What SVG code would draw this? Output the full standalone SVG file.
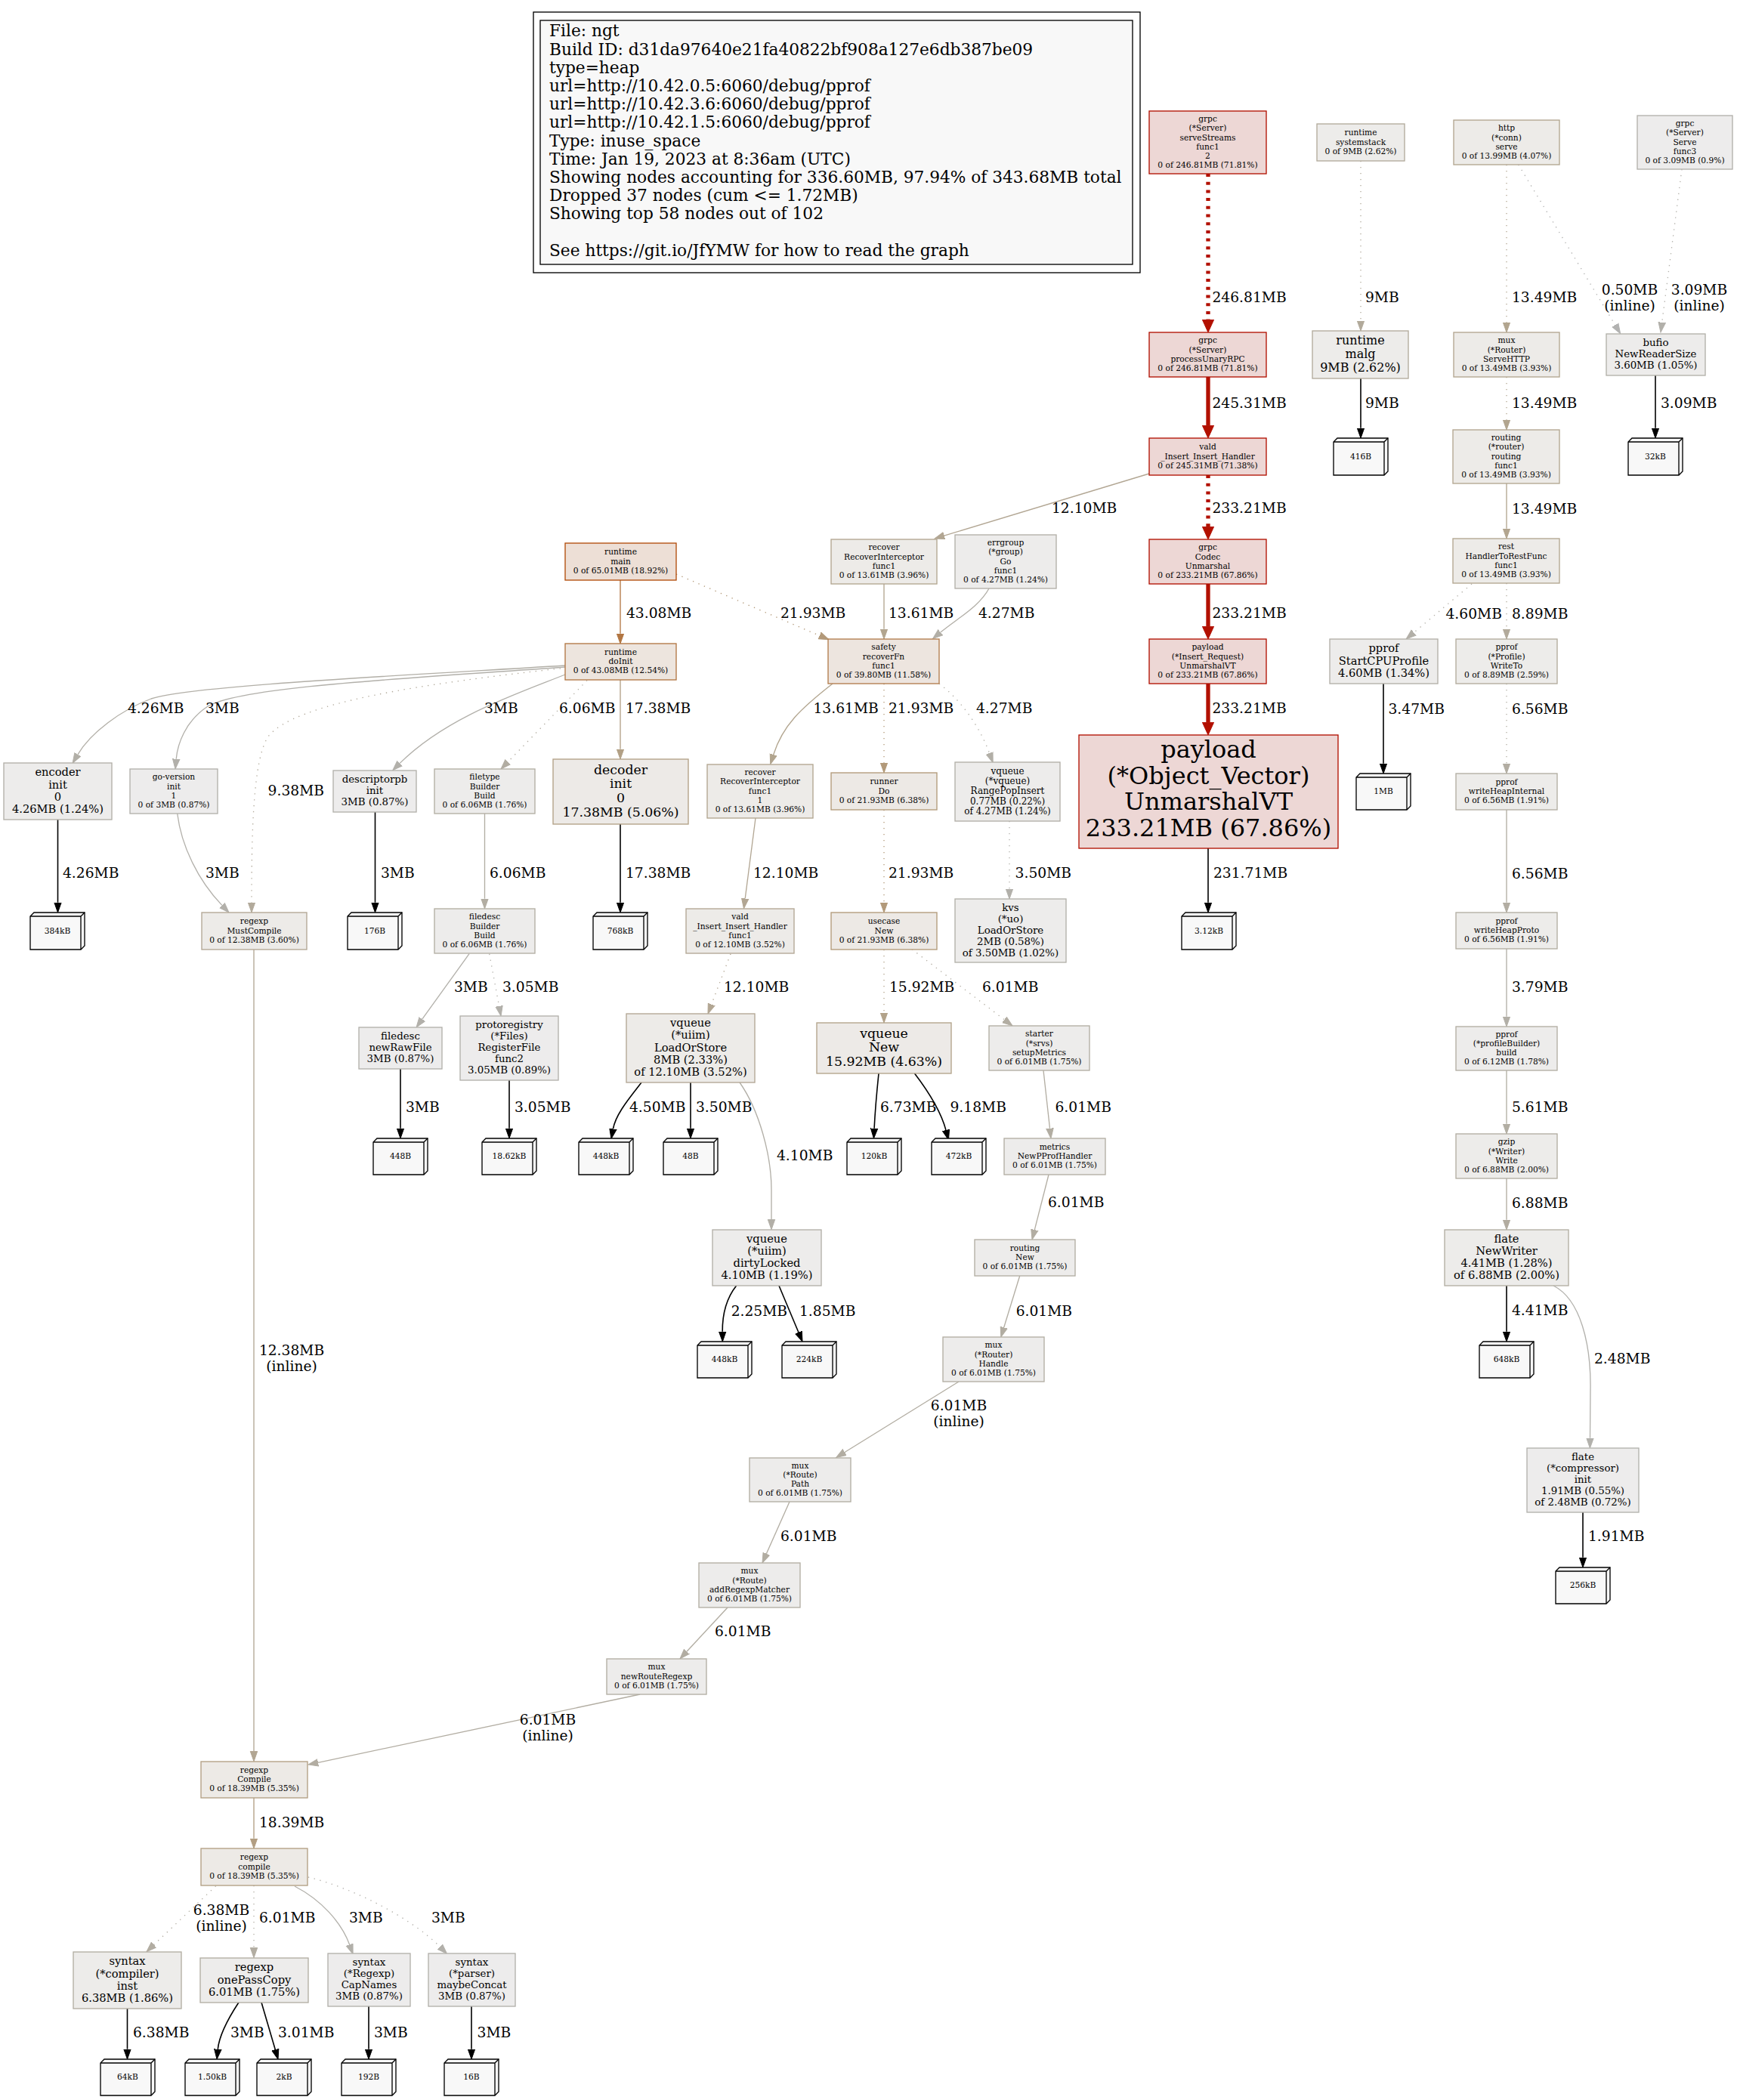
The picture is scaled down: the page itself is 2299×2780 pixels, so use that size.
<svg xmlns="http://www.w3.org/2000/svg" width="2299" height="2780" viewBox="0 0 2299 2780">
<style>
text{font-family:"DejaVu Serif",serif;fill:#000}
.t{text-anchor:middle}
.f8{font-size:10.67px}.f9{font-size:12px}.f10{font-size:13.33px}.f11{font-size:14.67px}.f12{font-size:16px}.f13{font-size:17.33px}.f24{font-size:32px}
.el{font-size:18.67px}.elc{font-size:18.67px;text-anchor:middle}
.lg{font-size:21.7px}
.nb{stroke-width:1.33}
.r{fill:#edd7d5;stroke:#b21000}.c1{fill:#eddfd6;stroke:#b24c09}.c2{fill:#ede5de;stroke:#b27642}.c3{fill:#ede5df;stroke:#b27c4b}
.c4{fill:#ede9e5;stroke:#b29979}.c5{fill:#edeae6;stroke:#b29e82}.c6{fill:#edeae7;stroke:#b2a085}.c6b{fill:#edeae7;stroke:#b2a289}
.c7{fill:#edebe8;stroke:#b2a58f}.c8{fill:#edebe8;stroke:#b2a693}.c9{fill:#edecea;stroke:#b2aa9b}.c10{fill:#edecea;stroke:#b2ada1}
.c11{fill:#edeceb;stroke:#b2ada2}.c12{fill:#edeceb;stroke:#b2afa7}.c13{fill:#edeceb;stroke:#b2b0a9}.c14{fill:#edecec;stroke:#b2b0aa}.c15{fill:#edecec;stroke:#b2b1ac}
.lf{fill:#f8f8f8;stroke:#000;stroke-width:1.33}.lfl{fill:none;stroke:#000;stroke-width:1.33}
.e{fill:none;stroke-width:1.33}.th{stroke-width:5.33}.dt{stroke-dasharray:1.33 6.67}.dtr{stroke-dasharray:4 6.7}
.sr{stroke:#b21000}.sk{stroke:#000;stroke-width:1.6}.s43{stroke:#b27642}.s21{stroke:#b29979}.s18{stroke:#b29e82}.s17{stroke:#b2a085}.s15{stroke:#b2a289}
.s13{stroke:#b2a58f}.s12{stroke:#b2a693}.s9{stroke:#b2aa9b}.s6{stroke:#b2ada2}.s688{stroke:#b2aca0}.s561{stroke:#b2aea3}.s4{stroke:#b2afa7}.s3{stroke:#b2b0aa}.s248{stroke:#b2b1ac}.s05{stroke:#b2b2b1}
</style>
<defs>
<marker id="ar" markerUnits="userSpaceOnUse" viewBox="0 -9 18 18" markerWidth="18" markerHeight="18" refX="0" refY="0" orient="auto"><path d="M0,-7.6L16.7,0L0,7.6z" fill="#b21000" stroke="#b21000"/></marker>
<marker id="ak" markerUnits="userSpaceOnUse" viewBox="0 -6 15 12" markerWidth="15" markerHeight="12" refX="0" refY="0" orient="auto"><path d="M0,-4.7L13.3,0L0,4.7z" fill="#000" stroke="#000"/></marker>
<marker id="a43" markerUnits="userSpaceOnUse" viewBox="0 -6 15 12" markerWidth="15" markerHeight="12" refX="0" refY="0" orient="auto"><path d="M0,-4.7L13.3,0L0,4.7z" fill="#b27642" stroke="#b27642"/></marker>
<marker id="a21" markerUnits="userSpaceOnUse" viewBox="0 -6 15 12" markerWidth="15" markerHeight="12" refX="0" refY="0" orient="auto"><path d="M0,-4.7L13.3,0L0,4.7z" fill="#b29979" stroke="#b29979"/></marker>
<marker id="a18" markerUnits="userSpaceOnUse" viewBox="0 -6 15 12" markerWidth="15" markerHeight="12" refX="0" refY="0" orient="auto"><path d="M0,-4.7L13.3,0L0,4.7z" fill="#b29e82" stroke="#b29e82"/></marker>
<marker id="a17" markerUnits="userSpaceOnUse" viewBox="0 -6 15 12" markerWidth="15" markerHeight="12" refX="0" refY="0" orient="auto"><path d="M0,-4.7L13.3,0L0,4.7z" fill="#b2a085" stroke="#b2a085"/></marker>
<marker id="a15" markerUnits="userSpaceOnUse" viewBox="0 -6 15 12" markerWidth="15" markerHeight="12" refX="0" refY="0" orient="auto"><path d="M0,-4.7L13.3,0L0,4.7z" fill="#b2a289" stroke="#b2a289"/></marker>
<marker id="a13" markerUnits="userSpaceOnUse" viewBox="0 -6 15 12" markerWidth="15" markerHeight="12" refX="0" refY="0" orient="auto"><path d="M0,-4.7L13.3,0L0,4.7z" fill="#b2a58f" stroke="#b2a58f"/></marker>
<marker id="a12" markerUnits="userSpaceOnUse" viewBox="0 -6 15 12" markerWidth="15" markerHeight="12" refX="0" refY="0" orient="auto"><path d="M0,-4.7L13.3,0L0,4.7z" fill="#b2a693" stroke="#b2a693"/></marker>
<marker id="a9" markerUnits="userSpaceOnUse" viewBox="0 -6 15 12" markerWidth="15" markerHeight="12" refX="0" refY="0" orient="auto"><path d="M0,-4.7L13.3,0L0,4.7z" fill="#b2aa9b" stroke="#b2aa9b"/></marker>
<marker id="a6" markerUnits="userSpaceOnUse" viewBox="0 -6 15 12" markerWidth="15" markerHeight="12" refX="0" refY="0" orient="auto"><path d="M0,-4.7L13.3,0L0,4.7z" fill="#b2ada2" stroke="#b2ada2"/></marker>
<marker id="a688" markerUnits="userSpaceOnUse" viewBox="0 -6 15 12" markerWidth="15" markerHeight="12" refX="0" refY="0" orient="auto"><path d="M0,-4.7L13.3,0L0,4.7z" fill="#b2aca0" stroke="#b2aca0"/></marker>
<marker id="a561" markerUnits="userSpaceOnUse" viewBox="0 -6 15 12" markerWidth="15" markerHeight="12" refX="0" refY="0" orient="auto"><path d="M0,-4.7L13.3,0L0,4.7z" fill="#b2aea3" stroke="#b2aea3"/></marker>
<marker id="a4" markerUnits="userSpaceOnUse" viewBox="0 -6 15 12" markerWidth="15" markerHeight="12" refX="0" refY="0" orient="auto"><path d="M0,-4.7L13.3,0L0,4.7z" fill="#b2afa7" stroke="#b2afa7"/></marker>
<marker id="a3" markerUnits="userSpaceOnUse" viewBox="0 -6 15 12" markerWidth="15" markerHeight="12" refX="0" refY="0" orient="auto"><path d="M0,-4.7L13.3,0L0,4.7z" fill="#b2b0aa" stroke="#b2b0aa"/></marker>
<marker id="a248" markerUnits="userSpaceOnUse" viewBox="0 -6 15 12" markerWidth="15" markerHeight="12" refX="0" refY="0" orient="auto"><path d="M0,-4.7L13.3,0L0,4.7z" fill="#b2b1ac" stroke="#b2b1ac"/></marker>
<marker id="a05" markerUnits="userSpaceOnUse" viewBox="0 -6 15 12" markerWidth="15" markerHeight="12" refX="0" refY="0" orient="auto"><path d="M0,-4.7L13.3,0L0,4.7z" fill="#b2b2b1" stroke="#b2b2b1"/></marker>
</defs>
<rect x="0" y="0" width="2299" height="2780" fill="#fff"/>

<g id="legend">
<rect x="706" y="16" width="803" height="345" fill="#fff" stroke="#000" stroke-width="1.33"/>
<rect x="715" y="27" width="784" height="323" fill="#f8f8f8" stroke="#000" stroke-width="1.33"/>
<text class="lg" x="727" y="48.3">File: ngt</text>
<text class="lg" x="727" y="72.5">Build ID: d31da97640e21fa40822bf908a127e6db387be09</text>
<text class="lg" x="727" y="96.7">type=heap</text>
<text class="lg" x="727" y="120.9">url=http://10.42.0.5:6060/debug/pprof</text>
<text class="lg" x="727" y="145.1">url=http://10.42.3.6:6060/debug/pprof</text>
<text class="lg" x="727" y="169.3">url=http://10.42.1.5:6060/debug/pprof</text>
<text class="lg" x="727" y="193.5">Type: inuse_space</text>
<text class="lg" x="727" y="217.7">Time: Jan 19, 2023 at 8:36am (UTC)</text>
<text class="lg" x="727" y="241.9">Showing nodes accounting for 336.60MB, 97.94% of 343.68MB total</text>
<text class="lg" x="727" y="266.1">Dropped 37 nodes (cum &lt;= 1.72MB)</text>
<text class="lg" x="727" y="290.3">Showing top 58 nodes out of 102</text>
<text class="lg" x="727" y="338.7">See https://git.io/JfYMW for how to read the graph</text>
</g>

<g id="edges">
<path class="e th dtr sr" d="M1599,230V423.3" marker-end="url(#ar)"/><text class="el" x="1604.5" y="400">246.81MB</text>
<path class="e th sr" d="M1599,499V563.3" marker-end="url(#ar)"/><text class="el" x="1604.5" y="540">245.31MB</text>
<path class="e th dtr sr" d="M1599,629V697.3" marker-end="url(#ar)"/><text class="el" x="1604.5" y="679">233.21MB</text>
<path class="e th sr" d="M1599,773V829.3" marker-end="url(#ar)"/><text class="el" x="1604.5" y="818">233.21MB</text>
<path class="e th sr" d="M1599,905V956.3" marker-end="url(#ar)"/><text class="el" x="1604.5" y="944">233.21MB</text>
<path class="e sk" d="M1599,1123V1194.7" marker-end="url(#ak)"/><text class="el" x="1606" y="1162">231.71MB</text>
<path class="e dt s9" d="M1801,213V424.7" marker-end="url(#a9)"/><text class="el" x="1807" y="400">9MB</text>
<path class="e sk" d="M1801,501V566.7" marker-end="url(#ak)"/><text class="el" x="1807" y="540">9MB</text>
<path class="e dt s13" d="M1994,218V426.7" marker-end="url(#a13)"/><text class="el" x="2001" y="400">13.49MB</text>
<path class="e dt s05" d="M2009.7,218L2137.8,430.3" marker-end="url(#a05)"/><text class="elc" x="2157" y="390">0.50MB</text><text class="elc" x="2157" y="411">(inline)</text>
<path class="e dt s3" d="M2226,224L2199.7,426.8" marker-end="url(#a3)"/><text class="elc" x="2249" y="390">3.09MB</text><text class="elc" x="2249" y="411">(inline)</text>
<path class="e dt s13" d="M1994,499V555.7" marker-end="url(#a13)"/><text class="el" x="2001" y="540">13.49MB</text>
<path class="e sk" d="M2191,497V566.7" marker-end="url(#ak)"/><text class="el" x="2198" y="540">3.09MB</text>
<path class="e s13" d="M1994,640V699.7" marker-end="url(#a13)"/><text class="el" x="2001" y="680">13.49MB</text>
<path class="e dt s4" d="M1948,773L1871.2,837.5" marker-end="url(#a4)"/><text class="el" x="1913.5" y="819">4.60MB</text>
<path class="e dt s9" d="M1994,772V832.7" marker-end="url(#a9)"/><text class="el" x="2001" y="819">8.89MB</text>
<path class="e sk" d="M1831,905V1010.7" marker-end="url(#ak)"/><text class="el" x="1837.5" y="945">3.47MB</text>
<path class="e dt s6" d="M1994,905V1010.7" marker-end="url(#a6)"/><text class="el" x="2001" y="945">6.56MB</text>
<path class="e s6" d="M1994,1072V1194.7" marker-end="url(#a6)"/><text class="el" x="2001" y="1163">6.56MB</text>
<path class="e s4" d="M1994,1256V1345.7" marker-end="url(#a4)"/><text class="el" x="2001" y="1313">3.79MB</text>
<path class="e s561" d="M1994,1417V1487.7" marker-end="url(#a561)"/><text class="el" x="2001" y="1472">5.61MB</text>
<path class="e s688" d="M1994,1560V1614.7" marker-end="url(#a688)"/><text class="el" x="2001" y="1599">6.88MB</text>
<path class="e sk" d="M1994,1702V1762.7" marker-end="url(#ak)"/><text class="el" x="2001" y="1741">4.41MB</text>
<path class="e s248" d="M2056,1702C2092,1720 2106,1780 2105,1840L2104.5,1903.7" marker-end="url(#a248)"/><text class="el" x="2110" y="1805">2.48MB</text>
<path class="e sk" d="M2095,2002V2061.7" marker-end="url(#ak)"/><text class="el" x="2102" y="2040">1.91MB</text>
<path class="e s12" d="M1521,627L1249.7,709.1" marker-end="url(#a12)"/><text class="el" x="1392" y="679">12.10MB</text>
<path class="e s43" d="M821,768V838.7" marker-end="url(#a43)"/><text class="el" x="829" y="818">43.08MB</text>
<path class="e dt s21" d="M895,760L1084.8,841.5" marker-end="url(#a21)"/><text class="el" x="1033" y="818">21.93MB</text>
<path class="e s13" d="M1170,773V832.7" marker-end="url(#a13)"/><text class="el" x="1176" y="818">13.61MB</text>
<path class="e s4" d="M1309,779C1296,803 1268,818 1244.8,837.1" marker-end="url(#a4)"/><text class="el" x="1295" y="818">4.27MB</text>
<path class="e s13" d="M1102,905C1060,938 1036,960 1023.7,999" marker-end="url(#a13)"/><text class="el" x="1076.5" y="944">13.61MB</text>
<path class="e dt s21" d="M1170,905V1009.7" marker-end="url(#a21)"/><text class="el" x="1176" y="944">21.93MB</text>
<path class="e dt s4" d="M1243,905C1270,925 1296,960 1309.6,997.1" marker-end="url(#a4)"/><text class="el" x="1292" y="944">4.27MB</text>
<path class="e dt s3" d="M1336,1087V1176.7" marker-end="url(#a3)"/><text class="el" x="1343.6" y="1162">3.50MB</text>
<path class="e s12" d="M1000,1083L986.2,1189.5" marker-end="url(#a12)"/><text class="el" x="997" y="1162">12.10MB</text>
<path class="e dt s21" d="M1170,1072V1194.7" marker-end="url(#a21)"/><text class="el" x="1176" y="1162">21.93MB</text>
<path class="e s4" d="M748,881C520,895 250,908 200,925C160,940 120,970 102.9,998.8" marker-end="url(#a4)"/><text class="el" x="169" y="944">4.26MB</text>
<path class="e s3" d="M748,883C560,897 320,908 275,935C245,955 235,985 233.2,1004.8" marker-end="url(#a3)"/><text class="el" x="272" y="944">3MB</text>
<path class="e dt s9" d="M750,884C560,905 390,930 355,975C335,1005 333,1100 333,1194.7" marker-end="url(#a9)"/><text class="el" x="354.6" y="1053">9.38MB</text>
<path class="e s3" d="M748,893C680,920 590,950 529.2,1010.4" marker-end="url(#a3)"/><text class="el" x="641" y="944">3MB</text>
<path class="e dt s6" d="M777,900.7L672.3,1008.5" marker-end="url(#a6)"/><text class="el" x="740" y="944">6.06MB</text>
<path class="e s17" d="M821,900V991.7" marker-end="url(#a17)"/><text class="el" x="828" y="944">17.38MB</text>
<path class="e sk" d="M76.5,1085V1194.7" marker-end="url(#ak)"/><text class="el" x="83" y="1162">4.26MB</text>
<path class="e s3" d="M234.7,1077C240,1120 262,1165 293.8,1198.4" marker-end="url(#a3)"/><text class="el" x="272" y="1162">3MB</text>
<path class="e sk" d="M496.5,1075V1194.7" marker-end="url(#ak)"/><text class="el" x="504" y="1162">3MB</text>
<path class="e s6" d="M641.5,1077V1189.7" marker-end="url(#a6)"/><text class="el" x="648" y="1162">6.06MB</text>
<path class="e sk" d="M821,1091V1194.7" marker-end="url(#ak)"/><text class="el" x="828" y="1162">17.38MB</text>
<path class="e s12" d="M336,1257V2318.4" marker-end="url(#a12)"/><text class="elc" x="386" y="1794">12.38MB</text><text class="elc" x="386" y="1815">(inline)</text>
<path class="e s3" d="M621,1262.7L558.8,1349.2" marker-end="url(#a3)"/><text class="el" x="601" y="1313">3MB</text>
<path class="e dt s3" d="M647.7,1262.7L660.6,1331.9" marker-end="url(#a3)"/><text class="el" x="665" y="1313">3.05MB</text>
<path class="e sk" d="M530,1415V1493.7" marker-end="url(#ak)"/><text class="el" x="537" y="1472">3MB</text>
<path class="e sk" d="M674,1430V1493.7" marker-end="url(#ak)"/><text class="el" x="681" y="1472">3.05MB</text>
<path class="e dt s12" d="M967,1262.7L941.7,1329.6" marker-end="url(#a12)"/><text class="el" x="958" y="1313">12.10MB</text>
<path class="e dt s15" d="M1170,1257V1340.7" marker-end="url(#a15)"/><text class="el" x="1177" y="1313">15.92MB</text>
<path class="e dt s6" d="M1207,1256.7L1329.4,1349.9" marker-end="url(#a6)"/><text class="el" x="1300" y="1313">6.01MB</text>
<path class="e sk" d="M849,1433C832,1455 815,1475 811.4,1494.5" marker-end="url(#ak)"/><text class="el" x="833" y="1472">4.50MB</text>
<path class="e sk" d="M914,1433V1493.7" marker-end="url(#ak)"/><text class="el" x="921" y="1472">3.50MB</text>
<path class="e s4" d="M979,1433C1005,1470 1021,1530 1021,1575L1021,1614.4" marker-end="url(#a4)"/><text class="el" x="1028" y="1536">4.10MB</text>
<path class="e sk" d="M1163,1421C1160,1450 1158,1475 1157.1,1493.7" marker-end="url(#ak)"/><text class="el" x="1165" y="1472">6.73MB</text>
<path class="e sk" d="M1210.5,1421C1225,1440 1245,1470 1252,1496.1" marker-end="url(#ak)"/><text class="el" x="1257.5" y="1472">9.18MB</text>
<path class="e s6" d="M1381,1417L1389.5,1493.8" marker-end="url(#a6)"/><text class="el" x="1396.5" y="1472">6.01MB</text>
<path class="e s6" d="M1388,1555L1369.3,1628.1" marker-end="url(#a6)"/><text class="el" x="1387" y="1598">6.01MB</text>
<path class="e sk" d="M974.6,1702C962,1718 956,1740 956.2,1762.7" marker-end="url(#ak)"/><text class="el" x="967.7" y="1742">2.25MB</text>
<path class="e sk" d="M1031,1702L1056.9,1763.7" marker-end="url(#ak)"/><text class="el" x="1058" y="1742">1.85MB</text>
<path class="e s6" d="M1349.7,1689L1328.7,1757.3" marker-end="url(#a6)"/><text class="el" x="1344.7" y="1742">6.01MB</text>
<path class="e s6" d="M1269,1829L1118,1922.5" marker-end="url(#a6)"/><text class="elc" x="1269" y="1867">6.01MB</text><text class="elc" x="1269" y="1888">(inline)</text>
<path class="e s6" d="M1045,1988L1014.4,2056.8" marker-end="url(#a6)"/><text class="el" x="1033" y="2040">6.01MB</text>
<path class="e s6" d="M963,2128L909,2186.2" marker-end="url(#a6)"/><text class="el" x="946" y="2166">6.01MB</text>
<path class="e s6" d="M847,2243L421,2333.3" marker-end="url(#a6)"/><text class="elc" x="725" y="2283">6.01MB</text><text class="elc" x="725" y="2304">(inline)</text>
<path class="e s18" d="M336,2380V2433.7" marker-end="url(#a18)"/><text class="el" x="343" y="2419">18.39MB</text>
<path class="e dt s6" d="M285.7,2496.7L203.6,2574.5" marker-end="url(#a6)"/><text class="elc" x="293" y="2535">6.38MB</text><text class="elc" x="293" y="2556">(inline)</text>
<path class="e dt s6" d="M336,2496V2578.4" marker-end="url(#a6)"/><text class="el" x="343" y="2545">6.01MB</text>
<path class="e s3" d="M390,2497C425,2515 452,2545 462.6,2574.3" marker-end="url(#a3)"/><text class="el" x="462" y="2545">3MB</text>
<path class="e dt s3" d="M408,2485C470,2500 545,2540 582.2,2577" marker-end="url(#a3)"/><text class="el" x="571" y="2545">3MB</text>
<path class="e sk" d="M168.5,2659V2712.7" marker-end="url(#ak)"/><text class="el" x="176" y="2697">6.38MB</text>
<path class="e sk" d="M316,2650.7C300,2675 290,2695 288.3,2712.8" marker-end="url(#ak)"/><text class="el" x="305" y="2697">3MB</text>
<path class="e sk" d="M346,2650.7L364.3,2713.2" marker-end="url(#ak)"/><text class="el" x="368" y="2697">3.01MB</text>
<path class="e sk" d="M488,2656V2712.7" marker-end="url(#ak)"/><text class="el" x="495" y="2697">3MB</text>
<path class="e sk" d="M624,2656V2712.7" marker-end="url(#ak)"/><text class="el" x="631.6" y="2697">3MB</text>
</g>

<g id="N1"><rect class="nb r" x="1521" y="147" width="155" height="83"/><text class="t f8" x="1598.5" y="161.3"><tspan x="1598.5">grpc</tspan><tspan x="1598.5" dy="12.1">(*Server)</tspan><tspan x="1598.5" dy="12.1">serveStreams</tspan><tspan x="1598.5" dy="12.1">func1</tspan><tspan x="1598.5" dy="12.1">2</tspan><tspan x="1598.5" dy="12.1">0 of 246.81MB (71.81%)</tspan></text></g>
<g id="N2"><rect class="nb c9" x="1743" y="164" width="116" height="49"/><text class="t f8" x="1801" y="179.4"><tspan x="1801">runtime</tspan><tspan x="1801" dy="12.1">systemstack</tspan><tspan x="1801" dy="12.1">0 of 9MB (2.62%)</tspan></text></g>
<g id="N3"><rect class="nb c7" x="1924" y="159" width="140" height="59"/><text class="t f8" x="1994" y="173.4"><tspan x="1994">http</tspan><tspan x="1994" dy="12.1">(*conn)</tspan><tspan x="1994" dy="12.1">serve</tspan><tspan x="1994" dy="12.1">0 of 13.99MB (4.07%)</tspan></text></g>
<g id="N4"><rect class="nb c14" x="2167" y="153" width="126" height="71"/><text class="t f8" x="2230" y="167.3"><tspan x="2230">grpc</tspan><tspan x="2230" dy="12.1">(*Server)</tspan><tspan x="2230" dy="12.1">Serve</tspan><tspan x="2230" dy="12.1">func3</tspan><tspan x="2230" dy="12.1">0 of 3.09MB (0.9%)</tspan></text></g>
<g id="N5"><rect class="nb r" x="1521" y="440" width="155" height="59"/><text class="t f8" x="1598.5" y="454.4"><tspan x="1598.5">grpc</tspan><tspan x="1598.5" dy="12.1">(*Server)</tspan><tspan x="1598.5" dy="12.1">processUnaryRPC</tspan><tspan x="1598.5" dy="12.1">0 of 246.81MB (71.81%)</tspan></text></g>
<g id="N6"><rect class="nb c9" x="1737" y="438" width="127" height="63"/><text class="t f12" x="1800.5" y="456.3"><tspan x="1800.5">runtime</tspan><tspan x="1800.5" dy="17.7">malg</tspan><tspan x="1800.5" dy="17.7">9MB (2.62%)</tspan></text></g>
<g id="N7"><rect class="nb c7" x="1924" y="440" width="140" height="59"/><text class="t f8" x="1994" y="454.4"><tspan x="1994">mux</tspan><tspan x="1994" dy="12.1">(*Router)</tspan><tspan x="1994" dy="12.1">ServeHTTP</tspan><tspan x="1994" dy="12.1">0 of 13.49MB (3.93%)</tspan></text></g>
<g id="N8"><rect class="nb c13" x="2126" y="442" width="131" height="55"/><text class="t f10" x="2191.5" y="458.3"><tspan x="2191.5">bufio</tspan><tspan x="2191.5" dy="14.9">NewReaderSize</tspan><tspan x="2191.5" dy="14.9">3.60MB (1.05%)</tspan></text></g>
<g id="N9"><rect class="nb r" x="1521" y="580" width="155" height="49"/><text class="t f8" x="1598.5" y="595.4"><tspan x="1598.5">vald</tspan><tspan x="1598.5" dy="12.1">_Insert_Insert_Handler</tspan><tspan x="1598.5" dy="12.1">0 of 245.31MB (71.38%)</tspan></text></g>
<g id="N10"><rect class="nb c7" x="1923" y="569" width="141" height="71"/><text class="t f8" x="1993.5" y="583.3"><tspan x="1993.5">routing</tspan><tspan x="1993.5" dy="12.1">(*router)</tspan><tspan x="1993.5" dy="12.1">routing</tspan><tspan x="1993.5" dy="12.1">func1</tspan><tspan x="1993.5" dy="12.1">0 of 13.49MB (3.93%)</tspan></text></g>
<g id="N11"><rect class="nb c7" x="1100" y="714" width="140" height="59"/><text class="t f8" x="1170" y="728.4"><tspan x="1170">recover</tspan><tspan x="1170" dy="12.1">RecoverInterceptor</tspan><tspan x="1170" dy="12.1">func1</tspan><tspan x="1170" dy="12.1">0 of 13.61MB (3.96%)</tspan></text></g>
<g id="N12"><rect class="nb c12" x="1264" y="708" width="134" height="71"/><text class="t f8" x="1331" y="722.3"><tspan x="1331">errgroup</tspan><tspan x="1331" dy="12.1">(*group)</tspan><tspan x="1331" dy="12.1">Go</tspan><tspan x="1331" dy="12.1">func1</tspan><tspan x="1331" dy="12.1">0 of 4.27MB (1.24%)</tspan></text></g>
<g id="N13"><rect class="nb r" x="1521" y="714" width="155" height="59"/><text class="t f8" x="1598.5" y="728.4"><tspan x="1598.5">grpc</tspan><tspan x="1598.5" dy="12.1">Codec</tspan><tspan x="1598.5" dy="12.1">Unmarshal</tspan><tspan x="1598.5" dy="12.1">0 of 233.21MB (67.86%)</tspan></text></g>
<g id="N14"><rect class="nb c7" x="1923" y="713" width="141" height="59"/><text class="t f8" x="1993.5" y="727.4"><tspan x="1993.5">rest</tspan><tspan x="1993.5" dy="12.1">HandlerToRestFunc</tspan><tspan x="1993.5" dy="12.1">func1</tspan><tspan x="1993.5" dy="12.1">0 of 13.49MB (3.93%)</tspan></text></g>
<g id="N15"><rect class="nb c1" x="748" y="719" width="147" height="49"/><text class="t f8" x="821.5" y="734.4"><tspan x="821.5">runtime</tspan><tspan x="821.5" dy="12.1">main</tspan><tspan x="821.5" dy="12.1">0 of 65.01MB (18.92%)</tspan></text></g>
<g id="N16"><rect class="nb c2" x="748" y="852" width="147" height="48"/><text class="t f8" x="821.5" y="866.9"><tspan x="821.5">runtime</tspan><tspan x="821.5" dy="12.1">doInit</tspan><tspan x="821.5" dy="12.1">0 of 43.08MB (12.54%)</tspan></text></g>
<g id="N17"><rect class="nb c3" x="1096" y="846" width="147" height="59"/><text class="t f8" x="1169.5" y="860.4"><tspan x="1169.5">safety</tspan><tspan x="1169.5" dy="12.1">recoverFn</tspan><tspan x="1169.5" dy="12.1">func1</tspan><tspan x="1169.5" dy="12.1">0 of 39.80MB (11.58%)</tspan></text></g>
<g id="N18"><rect class="nb r" x="1521" y="846" width="155" height="59"/><text class="t f8" x="1598.5" y="860.4"><tspan x="1598.5">payload</tspan><tspan x="1598.5" dy="12.1">(*Insert_Request)</tspan><tspan x="1598.5" dy="12.1">UnmarshalVT</tspan><tspan x="1598.5" dy="12.1">0 of 233.21MB (67.86%)</tspan></text></g>
<g id="N19"><rect class="nb c12" x="1760" y="846" width="143" height="59"/><text class="t f11" x="1831.5" y="863.4"><tspan x="1831.5">pprof</tspan><tspan x="1831.5" dy="16.2">StartCPUProfile</tspan><tspan x="1831.5" dy="16.2">4.60MB (1.34%)</tspan></text></g>
<g id="N20"><rect class="nb c9" x="1927" y="846" width="134" height="59"/><text class="t f8" x="1994" y="860.4"><tspan x="1994">pprof</tspan><tspan x="1994" dy="12.1">(*Profile)</tspan><tspan x="1994" dy="12.1">WriteTo</tspan><tspan x="1994" dy="12.1">0 of 8.89MB (2.59%)</tspan></text></g>
<g id="N21"><rect class="nb c12" x="5" y="1010" width="143" height="75"/><text class="t f11" x="76.5" y="1027.3"><tspan x="76.5">encoder</tspan><tspan x="76.5" dy="16.2">init</tspan><tspan x="76.5" dy="16.2">0</tspan><tspan x="76.5" dy="16.2">4.26MB (1.24%)</tspan></text></g>
<g id="N22"><rect class="nb c14" x="172" y="1018" width="116" height="59"/><text class="t f8" x="230" y="1032.4"><tspan x="230">go-version</tspan><tspan x="230" dy="12.1">init</tspan><tspan x="230" dy="12.1">1</tspan><tspan x="230" dy="12.1">0 of 3MB (0.87%)</tspan></text></g>
<g id="N23"><rect class="nb c14" x="441" y="1020" width="110" height="55"/><text class="t f10" x="496" y="1036.3"><tspan x="496">descriptorpb</tspan><tspan x="496" dy="14.9">init</tspan><tspan x="496" dy="14.9">3MB (0.87%)</tspan></text></g>
<g id="N24"><rect class="nb c11" x="575" y="1018" width="133" height="59"/><text class="t f8" x="641.5" y="1032.4"><tspan x="641.5">filetype</tspan><tspan x="641.5" dy="12.1">Builder</tspan><tspan x="641.5" dy="12.1">Build</tspan><tspan x="641.5" dy="12.1">0 of 6.06MB (1.76%)</tspan></text></g>
<g id="N25"><rect class="nb c6" x="732" y="1005" width="179" height="86"/><text class="t f13" x="821.5" y="1024.5"><tspan x="821.5">decoder</tspan><tspan x="821.5" dy="18.9">init</tspan><tspan x="821.5" dy="18.9">0</tspan><tspan x="821.5" dy="18.9">17.38MB (5.06%)</tspan></text></g>
<g id="N26"><rect class="nb c7" x="936" y="1012" width="140" height="71"/><text class="t f8" x="1006" y="1026.3"><tspan x="1006">recover</tspan><tspan x="1006" dy="12.1">RecoverInterceptor</tspan><tspan x="1006" dy="12.1">func1</tspan><tspan x="1006" dy="12.1">1</tspan><tspan x="1006" dy="12.1">0 of 13.61MB (3.96%)</tspan></text></g>
<g id="N27"><rect class="nb c4" x="1100" y="1023" width="140" height="49"/><text class="t f8" x="1170" y="1038.4"><tspan x="1170">runner</tspan><tspan x="1170" dy="12.1">Do</tspan><tspan x="1170" dy="12.1">0 of 21.93MB (6.38%)</tspan></text></g>
<g id="N28"><rect class="nb c12" x="1264" y="1009" width="139" height="78"/><text class="t f9" x="1333.5" y="1024.6"><tspan x="1333.5">vqueue</tspan><tspan x="1333.5" dy="13.4">(*vqueue)</tspan><tspan x="1333.5" dy="13.4">RangePopInsert</tspan><tspan x="1333.5" dy="13.4">0.77MB (0.22%)</tspan><tspan x="1333.5" dy="13.4">of 4.27MB (1.24%)</tspan></text></g>
<g id="N29"><rect class="nb r" x="1428" y="973" width="343" height="150"/><text class="t f24" x="1599.5" y="1002.8"><tspan x="1599.5">payload</tspan><tspan x="1599.5" dy="34.8">(*Object_Vector)</tspan><tspan x="1599.5" dy="34.8">UnmarshalVT</tspan><tspan x="1599.5" dy="34.8">233.21MB (67.86%)</tspan></text></g>
<g id="N30"><rect class="nb c10" x="1927" y="1024" width="134" height="48"/><text class="t f8" x="1994" y="1038.9"><tspan x="1994">pprof</tspan><tspan x="1994" dy="12.1">writeHeapInternal</tspan><tspan x="1994" dy="12.1">0 of 6.56MB (1.91%)</tspan></text></g>
<g id="N31"><rect class="nb c8" x="267" y="1208" width="139" height="49"/><text class="t f8" x="336.5" y="1223.4"><tspan x="336.5">regexp</tspan><tspan x="336.5" dy="12.1">MustCompile</tspan><tspan x="336.5" dy="12.1">0 of 12.38MB (3.60%)</tspan></text></g>
<g id="N32"><rect class="nb c11" x="575" y="1203" width="133" height="59"/><text class="t f8" x="641.5" y="1217.4"><tspan x="641.5">filedesc</tspan><tspan x="641.5" dy="12.1">Builder</tspan><tspan x="641.5" dy="12.1">Build</tspan><tspan x="641.5" dy="12.1">0 of 6.06MB (1.76%)</tspan></text></g>
<g id="N33"><rect class="nb c8" x="908" y="1203" width="143" height="59"/><text class="t f8" x="979.5" y="1217.4"><tspan x="979.5">vald</tspan><tspan x="979.5" dy="12.1">_Insert_Insert_Handler</tspan><tspan x="979.5" dy="12.1">func1</tspan><tspan x="979.5" dy="12.1">0 of 12.10MB (3.52%)</tspan></text></g>
<g id="N34"><rect class="nb c4" x="1100" y="1208" width="140" height="49"/><text class="t f8" x="1170" y="1223.4"><tspan x="1170">usecase</tspan><tspan x="1170" dy="12.1">New</tspan><tspan x="1170" dy="12.1">0 of 21.93MB (6.38%)</tspan></text></g>
<g id="N35"><rect class="nb c13" x="1264" y="1190" width="147" height="84"/><text class="t f10" x="1337.5" y="1205.9"><tspan x="1337.5">kvs</tspan><tspan x="1337.5" dy="14.9">(*uo)</tspan><tspan x="1337.5" dy="14.9">LoadOrStore</tspan><tspan x="1337.5" dy="14.9">2MB (0.58%)</tspan><tspan x="1337.5" dy="14.9">of 3.50MB (1.02%)</tspan></text></g>
<g id="N36"><rect class="nb c10" x="1927" y="1208" width="134" height="48"/><text class="t f8" x="1994" y="1222.9"><tspan x="1994">pprof</tspan><tspan x="1994" dy="12.1">writeHeapProto</tspan><tspan x="1994" dy="12.1">0 of 6.56MB (1.91%)</tspan></text></g>
<g id="N37"><rect class="nb c14" x="475" y="1360" width="110" height="55"/><text class="t f10" x="530" y="1376.3"><tspan x="530">filedesc</tspan><tspan x="530" dy="14.9">newRawFile</tspan><tspan x="530" dy="14.9">3MB (0.87%)</tspan></text></g>
<g id="N38"><rect class="nb c14" x="609" y="1345" width="130" height="85"/><text class="t f10" x="674" y="1361.4"><tspan x="674">protoregistry</tspan><tspan x="674" dy="14.9">(*Files)</tspan><tspan x="674" dy="14.9">RegisterFile</tspan><tspan x="674" dy="14.9">func2</tspan><tspan x="674" dy="14.9">3.05MB (0.89%)</tspan></text></g>
<g id="N39"><rect class="nb c8" x="829" y="1342" width="170" height="91"/><text class="t f11" x="914" y="1359.2"><tspan x="914">vqueue</tspan><tspan x="914" dy="16.2">(*uiim)</tspan><tspan x="914" dy="16.2">LoadOrStore</tspan><tspan x="914" dy="16.2">8MB (2.33%)</tspan><tspan x="914" dy="16.2">of 12.10MB (3.52%)</tspan></text></g>
<g id="N40"><rect class="nb c6b" x="1081" y="1354" width="178" height="67"/><text class="t f13" x="1170" y="1373.5"><tspan x="1170">vqueue</tspan><tspan x="1170" dy="18.9">New</tspan><tspan x="1170" dy="18.9">15.92MB (4.63%)</tspan></text></g>
<g id="N41"><rect class="nb c11" x="1309" y="1358" width="133" height="59"/><text class="t f8" x="1375.5" y="1372.4"><tspan x="1375.5">starter</tspan><tspan x="1375.5" dy="12.1">(*srvs)</tspan><tspan x="1375.5" dy="12.1">setupMetrics</tspan><tspan x="1375.5" dy="12.1">0 of 6.01MB (1.75%)</tspan></text></g>
<g id="N42"><rect class="nb c11" x="1329" y="1507" width="134" height="48"/><text class="t f8" x="1396" y="1521.9"><tspan x="1396">metrics</tspan><tspan x="1396" dy="12.1">NewPProfHandler</tspan><tspan x="1396" dy="12.1">0 of 6.01MB (1.75%)</tspan></text></g>
<g id="N43"><rect class="nb c11" x="1927" y="1359" width="134" height="58"/><text class="t f8" x="1994" y="1372.9"><tspan x="1994">pprof</tspan><tspan x="1994" dy="12.1">(*profileBuilder)</tspan><tspan x="1994" dy="12.1">build</tspan><tspan x="1994" dy="12.1">0 of 6.12MB (1.78%)</tspan></text></g>
<g id="N44"><rect class="nb c10" x="1927" y="1501" width="134" height="59"/><text class="t f8" x="1994" y="1515.4"><tspan x="1994">gzip</tspan><tspan x="1994" dy="12.1">(*Writer)</tspan><tspan x="1994" dy="12.1">Write</tspan><tspan x="1994" dy="12.1">0 of 6.88MB (2.00%)</tspan></text></g>
<g id="N45"><rect class="nb c10" x="1912" y="1628" width="164" height="74"/><text class="t f11" x="1994" y="1644.8"><tspan x="1994">flate</tspan><tspan x="1994" dy="16.2">NewWriter</tspan><tspan x="1994" dy="16.2">4.41MB (1.28%)</tspan><tspan x="1994" dy="16.2">of 6.88MB (2.00%)</tspan></text></g>
<g id="N46"><rect class="nb c15" x="2021" y="1917" width="148" height="85"/><text class="t f10" x="2095" y="1933.4"><tspan x="2095">flate</tspan><tspan x="2095" dy="14.9">(*compressor)</tspan><tspan x="2095" dy="14.9">init</tspan><tspan x="2095" dy="14.9">1.91MB (0.55%)</tspan><tspan x="2095" dy="14.9">of 2.48MB (0.72%)</tspan></text></g>
<g id="N47"><rect class="nb c12" x="943" y="1628" width="144" height="74"/><text class="t f11" x="1015" y="1644.8"><tspan x="1015">vqueue</tspan><tspan x="1015" dy="16.2">(*uiim)</tspan><tspan x="1015" dy="16.2">dirtyLocked</tspan><tspan x="1015" dy="16.2">4.10MB (1.19%)</tspan></text></g>
<g id="N48"><rect class="nb c11" x="1290" y="1641" width="133" height="48"/><text class="t f8" x="1356.5" y="1655.9"><tspan x="1356.5">routing</tspan><tspan x="1356.5" dy="12.1">New</tspan><tspan x="1356.5" dy="12.1">0 of 6.01MB (1.75%)</tspan></text></g>
<g id="N49"><rect class="nb c11" x="1248" y="1770" width="134" height="59"/><text class="t f8" x="1315" y="1784.4"><tspan x="1315">mux</tspan><tspan x="1315" dy="12.1">(*Router)</tspan><tspan x="1315" dy="12.1">Handle</tspan><tspan x="1315" dy="12.1">0 of 6.01MB (1.75%)</tspan></text></g>
<g id="N50"><rect class="nb c11" x="992" y="1930" width="134" height="58"/><text class="t f8" x="1059" y="1943.9"><tspan x="1059">mux</tspan><tspan x="1059" dy="12.1">(*Route)</tspan><tspan x="1059" dy="12.1">Path</tspan><tspan x="1059" dy="12.1">0 of 6.01MB (1.75%)</tspan></text></g>
<g id="N51"><rect class="nb c11" x="925" y="2069" width="134" height="59"/><text class="t f8" x="992" y="2083.4"><tspan x="992">mux</tspan><tspan x="992" dy="12.1">(*Route)</tspan><tspan x="992" dy="12.1">addRegexpMatcher</tspan><tspan x="992" dy="12.1">0 of 6.01MB (1.75%)</tspan></text></g>
<g id="N52"><rect class="nb c11" x="803" y="2196" width="132" height="47"/><text class="t f8" x="869" y="2210.4"><tspan x="869">mux</tspan><tspan x="869" dy="12.1">newRouteRegexp</tspan><tspan x="869" dy="12.1">0 of 6.01MB (1.75%)</tspan></text></g>
<g id="N53"><rect class="nb c5" x="266" y="2332" width="141" height="48"/><text class="t f8" x="336.5" y="2346.9"><tspan x="336.5">regexp</tspan><tspan x="336.5" dy="12.1">Compile</tspan><tspan x="336.5" dy="12.1">0 of 18.39MB (5.35%)</tspan></text></g>
<g id="N54"><rect class="nb c5" x="266" y="2447" width="141" height="49"/><text class="t f8" x="336.5" y="2462.4"><tspan x="336.5">regexp</tspan><tspan x="336.5" dy="12.1">compile</tspan><tspan x="336.5" dy="12.1">0 of 18.39MB (5.35%)</tspan></text></g>
<g id="N55"><rect class="nb c10" x="97" y="2584" width="143" height="75"/><text class="t f11" x="168.5" y="2601.3"><tspan x="168.5">syntax</tspan><tspan x="168.5" dy="16.2">(*compiler)</tspan><tspan x="168.5" dy="16.2">inst</tspan><tspan x="168.5" dy="16.2">6.38MB (1.86%)</tspan></text></g>
<g id="N56"><rect class="nb c11" x="265" y="2592" width="143" height="59"/><text class="t f11" x="336.5" y="2609.4"><tspan x="336.5">regexp</tspan><tspan x="336.5" dy="16.2">onePassCopy</tspan><tspan x="336.5" dy="16.2">6.01MB (1.75%)</tspan></text></g>
<g id="N57"><rect class="nb c14" x="434" y="2586" width="109" height="70"/><text class="t f10" x="488.5" y="2602.4"><tspan x="488.5">syntax</tspan><tspan x="488.5" dy="14.9">(*Regexp)</tspan><tspan x="488.5" dy="14.9">CapNames</tspan><tspan x="488.5" dy="14.9">3MB (0.87%)</tspan></text></g>
<g id="N58"><rect class="nb c14" x="567" y="2586" width="115" height="70"/><text class="t f10" x="624.5" y="2602.4"><tspan x="624.5">syntax</tspan><tspan x="624.5" dy="14.9">(*parser)</tspan><tspan x="624.5" dy="14.9">maybeConcat</tspan><tspan x="624.5" dy="14.9">3MB (0.87%)</tspan></text></g>

<g id="L1"><polygon class="lf" points="1837,580 1770,580 1765,585 1765,629 1832,629 1837,624"/><path class="lfl" d="M1832,585H1765M1832,585V629M1832,585L1837,580"/><text class="t f8" x="1801" y="607.5">416B</text></g>
<g id="L2"><polygon class="lf" points="2227,580 2160,580 2155,585 2155,629 2222,629 2227,624"/><path class="lfl" d="M2222,585H2155M2222,585V629M2222,585L2227,580"/><text class="t f8" x="2191" y="607.5">32kB</text></g>
<g id="L3"><polygon class="lf" points="1636,1208 1569,1208 1564,1213 1564,1257 1631,1257 1636,1252"/><path class="lfl" d="M1631,1213H1564M1631,1213V1257M1631,1213L1636,1208"/><text class="t f8" x="1600" y="1235.5">3.12kB</text></g>
<g id="L4"><polygon class="lf" points="1867,1024 1800,1024 1795,1029 1795,1072 1862,1072 1867,1067"/><path class="lfl" d="M1862,1029H1795M1862,1029V1072M1862,1029L1867,1024"/><text class="t f8" x="1831" y="1051">1MB</text></g>
<g id="L5"><polygon class="lf" points="112,1208 45,1208 40,1213 40,1257 107,1257 112,1252"/><path class="lfl" d="M107,1213H40M107,1213V1257M107,1213L112,1208"/><text class="t f8" x="76" y="1235.5">384kB</text></g>
<g id="L6"><polygon class="lf" points="532,1208 465,1208 460,1213 460,1257 527,1257 532,1252"/><path class="lfl" d="M527,1213H460M527,1213V1257M527,1213L532,1208"/><text class="t f8" x="496" y="1235.5">176B</text></g>
<g id="L7"><polygon class="lf" points="857,1208 790,1208 785,1213 785,1257 852,1257 857,1252"/><path class="lfl" d="M852,1213H785M852,1213V1257M852,1213L857,1208"/><text class="t f8" x="821" y="1235.5">768kB</text></g>
<g id="L8"><polygon class="lf" points="566,1507 499,1507 494,1512 494,1555 561,1555 566,1550"/><path class="lfl" d="M561,1512H494M561,1512V1555M561,1512L566,1507"/><text class="t f8" x="530" y="1534">448B</text></g>
<g id="L9"><polygon class="lf" points="710,1507 643,1507 638,1512 638,1555 705,1555 710,1550"/><path class="lfl" d="M705,1512H638M705,1512V1555M705,1512L710,1507"/><text class="t f8" x="674" y="1534">18.62kB</text></g>
<g id="L10"><polygon class="lf" points="838,1507 771,1507 766,1512 766,1555 833,1555 838,1550"/><path class="lfl" d="M833,1512H766M833,1512V1555M833,1512L838,1507"/><text class="t f8" x="802" y="1534">448kB</text></g>
<g id="L11"><polygon class="lf" points="950,1507 883,1507 878,1512 878,1555 945,1555 950,1550"/><path class="lfl" d="M945,1512H878M945,1512V1555M945,1512L950,1507"/><text class="t f8" x="914" y="1534">48B</text></g>
<g id="L12"><polygon class="lf" points="1193,1507 1126,1507 1121,1512 1121,1555 1188,1555 1193,1550"/><path class="lfl" d="M1188,1512H1121M1188,1512V1555M1188,1512L1193,1507"/><text class="t f8" x="1157" y="1534">120kB</text></g>
<g id="L13"><polygon class="lf" points="1305,1507 1238,1507 1233,1512 1233,1555 1300,1555 1305,1550"/><path class="lfl" d="M1300,1512H1233M1300,1512V1555M1300,1512L1305,1507"/><text class="t f8" x="1269" y="1534">472kB</text></g>
<g id="L14"><polygon class="lf" points="995,1776 928,1776 923,1781 923,1824 990,1824 995,1819"/><path class="lfl" d="M990,1781H923M990,1781V1824M990,1781L995,1776"/><text class="t f8" x="959" y="1803">448kB</text></g>
<g id="L15"><polygon class="lf" points="1107,1776 1040,1776 1035,1781 1035,1824 1102,1824 1107,1819"/><path class="lfl" d="M1102,1781H1035M1102,1781V1824M1102,1781L1107,1776"/><text class="t f8" x="1071" y="1803">224kB</text></g>
<g id="L16"><polygon class="lf" points="2030,1776 1963,1776 1958,1781 1958,1824 2025,1824 2030,1819"/><path class="lfl" d="M2025,1781H1958M2025,1781V1824M2025,1781L2030,1776"/><text class="t f8" x="1994" y="1803">648kB</text></g>
<g id="L17"><polygon class="lf" points="2131,2075 2064,2075 2059,2080 2059,2123 2126,2123 2131,2118"/><path class="lfl" d="M2126,2080H2059M2126,2080V2123M2126,2080L2131,2075"/><text class="t f8" x="2095" y="2102">256kB</text></g>
<g id="L18"><polygon class="lf" points="205,2726 138,2726 133,2731 133,2774 200,2774 205,2769"/><path class="lfl" d="M200,2731H133M200,2731V2774M200,2731L205,2726"/><text class="t f8" x="169" y="2753">64kB</text></g>
<g id="L19"><polygon class="lf" points="317,2726 250,2726 245,2731 245,2774 312,2774 317,2769"/><path class="lfl" d="M312,2731H245M312,2731V2774M312,2731L317,2726"/><text class="t f8" x="281" y="2753">1.50kB</text></g>
<g id="L20"><polygon class="lf" points="412,2726 345,2726 340,2731 340,2774 407,2774 412,2769"/><path class="lfl" d="M407,2731H340M407,2731V2774M407,2731L412,2726"/><text class="t f8" x="376" y="2753">2kB</text></g>
<g id="L21"><polygon class="lf" points="524,2726 457,2726 452,2731 452,2774 519,2774 524,2769"/><path class="lfl" d="M519,2731H452M519,2731V2774M519,2731L524,2726"/><text class="t f8" x="488" y="2753">192B</text></g>
<g id="L22"><polygon class="lf" points="660,2726 593,2726 588,2731 588,2774 655,2774 660,2769"/><path class="lfl" d="M655,2731H588M655,2731V2774M655,2731L660,2726"/><text class="t f8" x="624" y="2753">16B</text></g>
</svg>
